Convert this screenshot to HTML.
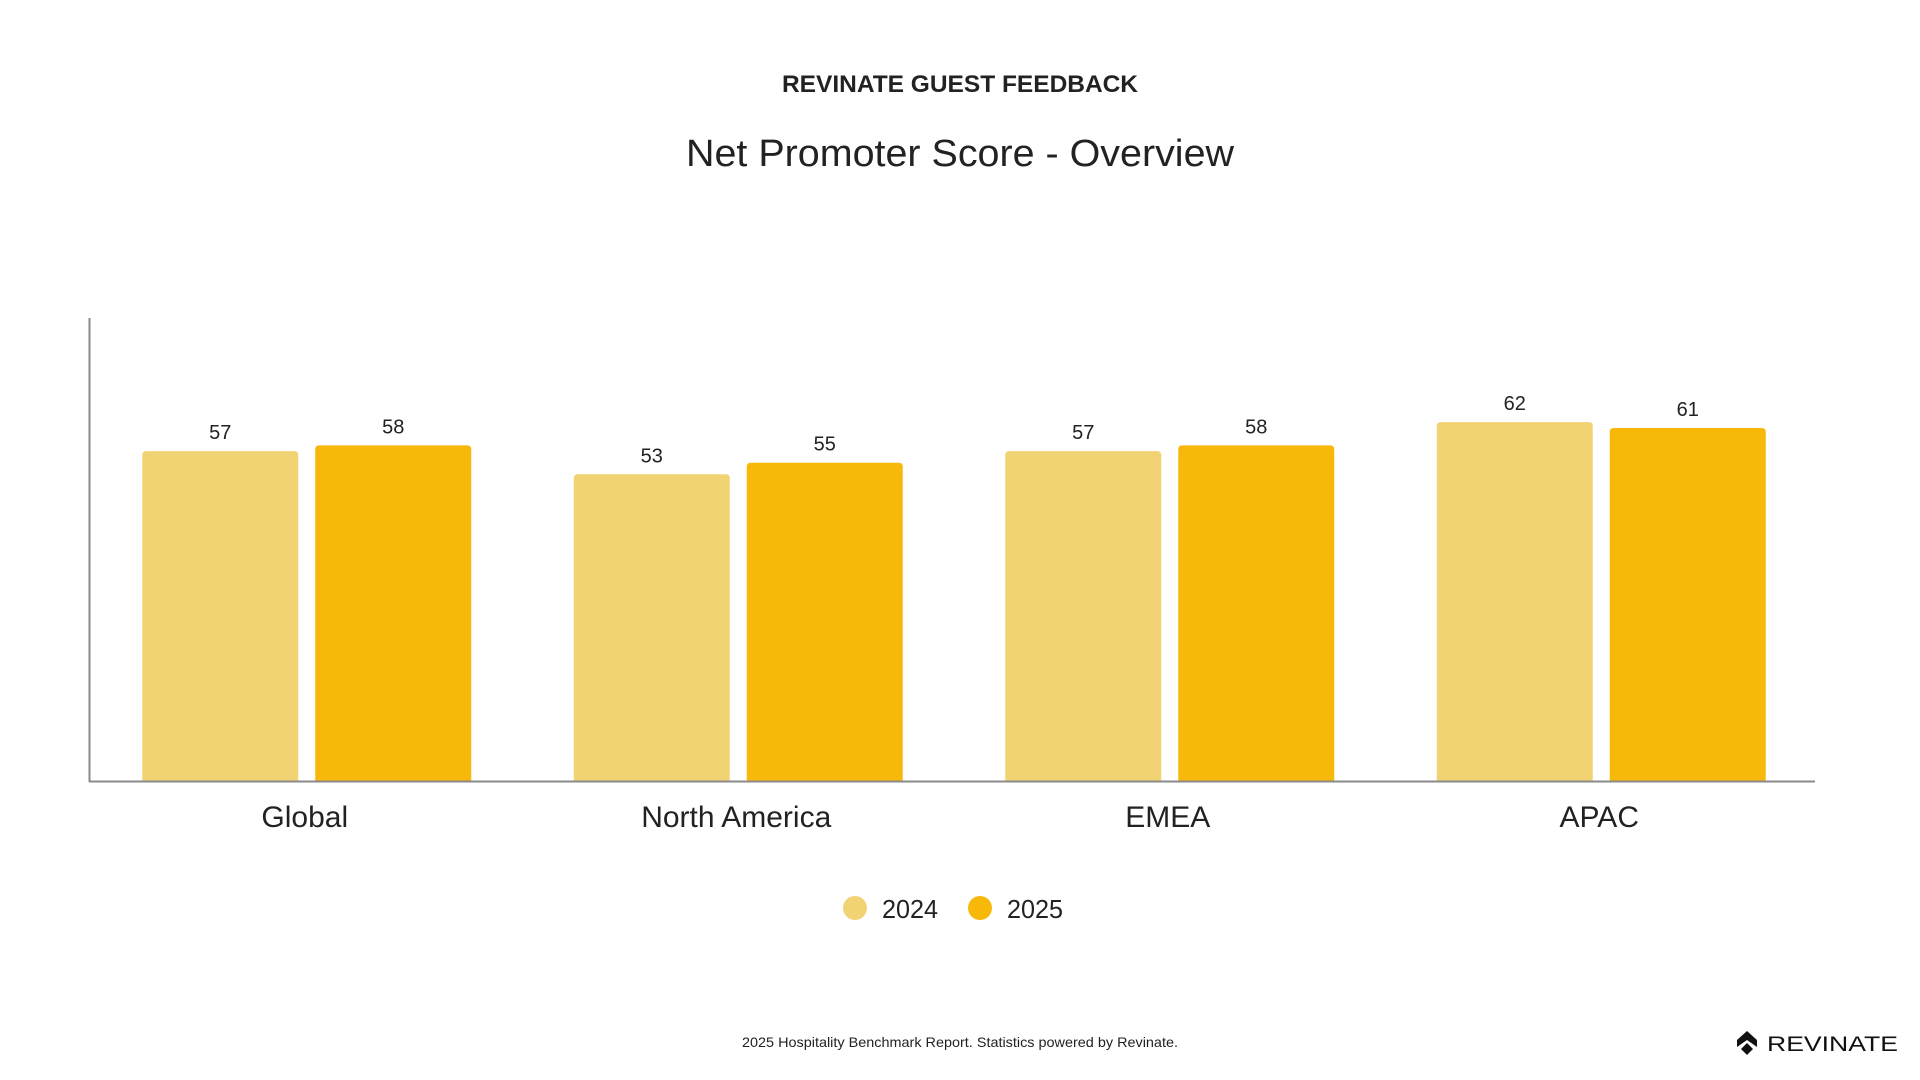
<!DOCTYPE html>
<html><head><meta charset="utf-8"><style>
html,body{margin:0;padding:0;background:#fff;}
svg{display:block;font-family:"Liberation Sans",sans-serif;}
</style></head><body>
<svg id="chart" width="1920" height="1080" viewBox="0 0 1920 1080">
<text x="960" y="92" text-anchor="middle" font-size="24" font-weight="bold" fill="#222" textLength="356" lengthAdjust="spacingAndGlyphs">REVINATE GUEST FEEDBACK</text>
<text x="960" y="166" text-anchor="middle" font-size="38" fill="#222" textLength="548" lengthAdjust="spacingAndGlyphs">Net Promoter Score - Overview</text>
<g id="bars"></g>
<line x1="89.5" y1="318" x2="89.5" y2="782" stroke="#8a8a8a" stroke-width="2"/>
<line x1="89" y1="781.5" x2="1815" y2="781.5" stroke="#8a8a8a" stroke-width="2"/>
<g>
<g>
<circle cx="855" cy="908" r="12" fill="#F2D374"/>
<text x="882" y="918" font-size="26" fill="#222" textLength="56" lengthAdjust="spacingAndGlyphs">2024</text></g>
<g>
<circle cx="980" cy="908" r="12" fill="#F7B80A"/>
<text x="1007" y="918" font-size="26" fill="#222" textLength="56" lengthAdjust="spacingAndGlyphs">2025</text></g>
</g>
<text x="960" y="1047" text-anchor="middle" font-size="14" fill="#222" textLength="436" lengthAdjust="spacingAndGlyphs">2025 Hospitality Benchmark Report. Statistics powered by Revinate.</text>
<g>
<path d="M1747 1031 L1757 1040 L1757 1047 L1747 1040 L1737 1047 L1737 1040 Z" fill="#111"/>
<path d="M1747 1043 L1753 1049 L1747 1055 L1741 1049 Z" fill="#111"/>
<text x="1767" y="1051" font-size="21" fill="#111" textLength="131" lengthAdjust="spacingAndGlyphs">REVINATE</text>
</g>
</svg>
<script>
const categories = ["Global", "North America", "EMEA", "APAC"];
const series2024 = [57, 53, 57, 62];
const series2025 = [58, 55, 58, 61];
const seriesNames = ["2024", "2025"];
const yMax = 80;

const NS = "http://www.w3.org/2000/svg";
const plotL = 89, plotR = 1815, plotTop = 318, plotBottom = 781;
const catW = (plotR - plotL) / categories.length;
const barW = 156, gap = 17;
const colors = ["#F2D374", "#F7B80A"];
function yScale(v){ return plotBottom - (v / yMax) * (plotBottom - plotTop); }
function xCat(i){ return plotL + i * catW; }
const g = document.getElementById("bars");
const all = [series2024, series2025];
categories.forEach((c, i) => {
  const start = xCat(i) + (catW - (2 * barW + gap)) / 2 + 2;
  all.forEach((s, k) => {
    const x = start + k * (barW + gap);
    const y = yScale(s[i]);
    const p = document.createElementNS(NS, "path");
    const r = 4;
    p.setAttribute("d", `M${x} ${plotBottom} V${y + r} Q${x} ${y} ${x + r} ${y} H${x + barW - r} Q${x + barW} ${y} ${x + barW} ${y + r} V${plotBottom} Z`);
    p.setAttribute("fill", colors[k]);
    
    
    g.appendChild(p);
    const t = document.createElementNS(NS, "text");
    t.setAttribute("x", x + barW / 2);
    t.setAttribute("y", y - 12);
    t.setAttribute("text-anchor", "middle");
    t.setAttribute("font-size", "20");
    t.setAttribute("fill", "#222");
    t.textContent = s[i];
    
    
    g.appendChild(t);
  });
  const lab = document.createElementNS(NS, "text");
  lab.setAttribute("x", xCat(i) + catW / 2);
  lab.setAttribute("y", 827);
  lab.setAttribute("text-anchor", "middle");
  lab.setAttribute("font-size", "30");
  lab.setAttribute("fill", "#222");
  lab.textContent = c;
  
  
  g.appendChild(lab);
});
</script>
</body></html>
